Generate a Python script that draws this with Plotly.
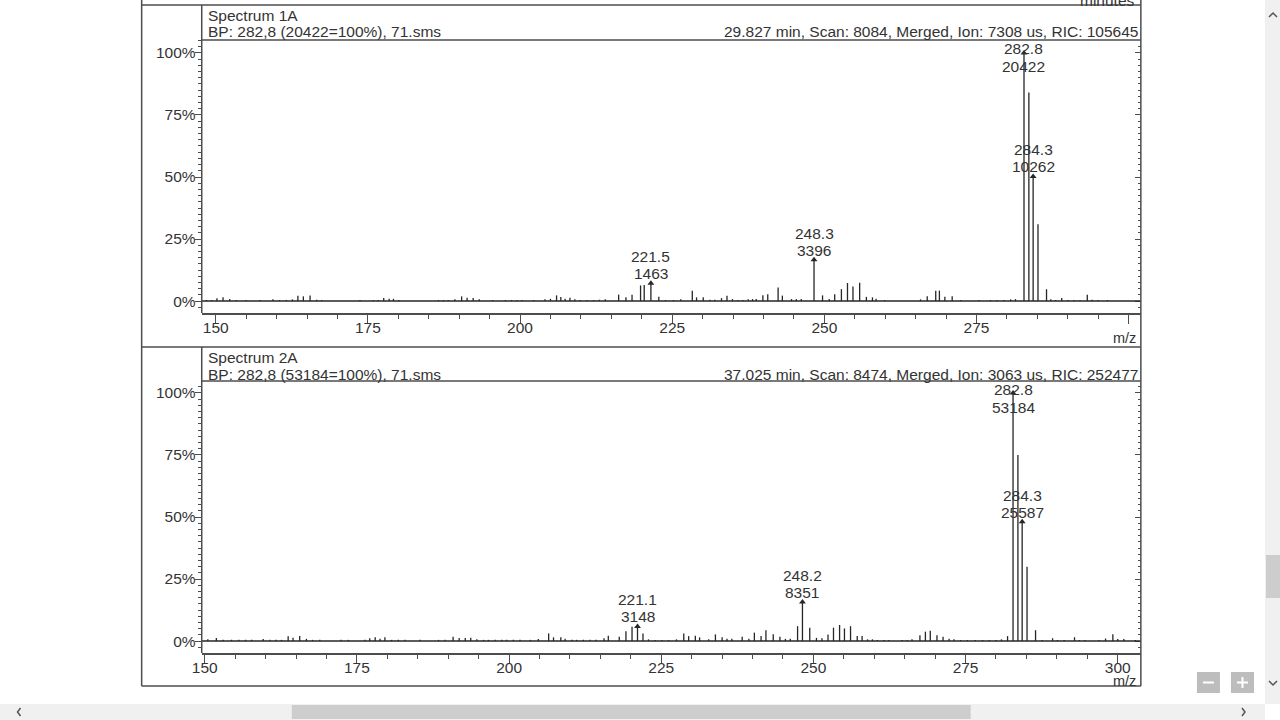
import plotly.graph_objects as go

# ---------------- DATA ----------------
# Spectrum 1A : unlabeled peaks (m/z, relative intensity %)
s1_mz = [148.5, 149.3, 150.2, 151.2, 152.3, 153.4, 155.0, 157.3, 159.4, 160.5, 161.6, 162.6,
         163.5, 164.4, 165.5, 166.6, 167.4, 173.7, 175.9, 176.7, 177.6, 178.5, 179.2, 180.1,
         186.6, 187.4, 188.2, 189.3, 190.4, 191.3, 192.3, 193.3, 195.5, 197.6, 198.6, 199.5,
         200.3, 202.2, 204.1, 205.0, 206.0, 206.7, 207.4, 208.2, 209.0, 209.9, 211.0, 212.1,
         213.0, 214.0, 216.2, 217.4, 218.4, 219.8, 220.4, 222.8, 223.9, 225.2, 226.4, 228.3,
         229.0, 230.1, 231.2, 232.0, 233.1, 234.0, 234.9, 235.8, 236.6, 237.5, 238.2, 238.8,
         239.9, 240.7, 242.4, 243.1, 244.6, 245.4, 246.2, 249.7, 250.8, 251.7, 252.8, 253.8,
         254.7, 255.8, 256.9, 257.9, 258.5, 259.9, 265.8, 266.9, 268.3, 268.9, 269.8, 271.0,
         272.4, 275.4, 277.3, 278.4, 279.5, 280.6, 281.4, 283.6, 285.1, 286.5, 287.2, 288.0,
         289.0, 290.0, 291.0, 292.0, 293.2, 294.0, 295.0, 296.5]
s1_pct = [0.4, 0.4, 1.1, 1.5, 0.8, 0.4, 0.4, 0.4, 0.7, 0.4, 0.4, 0.7,
          2.2, 1.9, 2.3, 0.5, 0.4, 0.4, 0.4, 0.4, 1.2, 0.9, 0.9, 0.4,
          0.4, 0.4, 0.4, 0.7, 1.9, 1.3, 1.2, 0.7, 0.4, 0.4, 0.4, 0.4,
          0.4, 0.4, 0.7, 0.9, 2.3, 1.6, 0.9, 1.3, 0.7, 0.4, 0.4, 0.4,
          0.5, 0.7, 2.6, 1.5, 2.6, 6.3, 6.5, 1.7, 0.4, 0.4, 0.7, 4.2,
          1.5, 1.5, 0.5, 0.5, 1.2, 2.2, 0.8, 0.4, 0.4, 0.7, 0.8, 0.8,
          2.4, 2.8, 5.5, 2.2, 0.8, 0.8, 0.8, 2.3, 0.8, 2.8, 4.8, 7.3,
          5.9, 7.4, 1.7, 1.5, 0.9, 0.4, 0.7, 1.9, 4.2, 4.2, 1.7, 1.9,
          0.4, 0.4, 0.4, 0.4, 0.4, 0.7, 0.8, 84.0, 31.0, 4.8, 0.7, 0.4,
          1.2, 0.4, 0.4, 0.3, 2.6, 0.5, 0.4, 0.4]
# Spectrum 1A : labeled peaks (m/z, counts)
s1_lab_mz = [221.5, 248.3, 282.8, 284.3]
s1_lab_counts = [1463, 3396, 20422, 10262]
s1_base = 20422

# Spectrum 2A : unlabeled peaks
s2_mz = [150.5, 151.9, 153.0, 154.4, 155.6, 156.7, 157.7, 159.6, 160.7, 161.7, 162.6, 163.7,
         164.5, 165.6, 166.7, 167.7, 168.9, 172.4, 173.6, 176.3, 177.1, 178.0, 178.8, 179.6,
         180.7, 181.8, 182.9, 185.4, 188.4, 189.5, 190.8, 191.8, 192.8, 193.7, 194.7, 195.8,
         196.6, 197.7, 198.8, 199.6, 200.7, 201.8, 203.5, 204.8, 206.5, 207.3, 208.5, 209.2,
         210.3, 211.1, 212.2, 213.3, 214.3, 215.6, 216.3, 218.1, 219.2, 220.2, 222.0, 222.9,
         224.0, 225.1, 226.2, 227.5, 228.7, 229.5, 230.6, 231.3, 232.8, 233.9, 235.0, 235.8,
         236.6, 238.3, 239.4, 240.3, 241.4, 242.2, 243.4, 244.5, 245.4, 246.2, 247.4, 249.4,
         250.5, 251.4, 252.4, 253.3, 254.3, 255.1, 256.1, 257.2, 258.0, 258.9, 259.7, 260.5,
         261.6, 262.4, 264.6, 265.4, 266.2, 267.5, 268.4, 269.2, 270.3, 271.3, 272.3, 273.1,
         274.2, 275.3, 276.6, 277.8, 278.9, 280.0, 280.9, 281.9, 283.6, 285.1, 286.5, 287.6,
         289.3, 290.1, 291.2, 292.9, 293.7, 294.6, 296.9, 298.0, 299.2, 300.0, 301.0, 302.9]
s2_pct = [0.7, 1.2, 0.5, 0.5, 0.5, 0.5, 0.5, 0.8, 0.5, 0.5, 0.5, 1.9,
          1.3, 2.0, 0.9, 0.5, 0.5, 0.5, 0.5, 0.5, 1.1, 1.5, 0.9, 1.5,
          0.5, 0.5, 0.5, 0.5, 0.5, 0.5, 1.7, 1.2, 1.2, 1.3, 0.7, 0.5,
          0.5, 0.5, 0.5, 0.5, 0.5, 0.5, 0.5, 0.8, 3.1, 1.5, 1.5, 0.9,
          0.5, 0.5, 0.5, 0.5, 0.5, 1.1, 2.2, 1.7, 4.0, 5.8, 3.1, 0.7,
          0.4, 0.4, 0.4, 0.7, 3.1, 2.0, 2.2, 1.5, 0.7, 2.7, 1.5, 0.9,
          0.9, 1.7, 0.9, 3.4, 2.0, 4.4, 2.8, 1.7, 0.9, 0.9, 6.0, 5.4,
          1.3, 1.1, 2.7, 5.4, 6.5, 5.1, 6.0, 2.0, 2.0, 0.7, 0.7, 0.4,
          0.4, 0.4, 0.4, 0.4, 0.7, 2.4, 3.8, 4.2, 2.4, 1.7, 0.9, 0.7,
          0.4, 0.4, 0.4, 0.4, 0.4, 0.4, 0.7, 2.0, 75.0, 30.0, 4.4, 0.4,
          1.1, 0.4, 0.4, 1.5, 0.4, 0.4, 0.4, 1.0, 2.8, 0.8, 0.8, 0.4]
s2_lab_mz = [221.1, 248.2, 282.8, 284.3]
s2_lab_counts = [3148, 8351, 53184, 25587]
s2_base = 53184

x_tickvals = [150, 175, 200, 225, 250, 275, 300]
x_ticktext_top = ["150", "175", "200", "225", "250", "275", ""]
x_ticktext_bot = ["150", "175", "200", "225", "250", "275", "300"]

titles = ["Spectrum 1A", "Spectrum 2A"]
bp_texts = ["BP: 282,8 (20422=100%), 71.sms", "BP: 282,8 (53184=100%), 71.sms"]
info_texts = ["29.827 min, Scan: 8084, Merged, Ion: 7308 us, RIC: 105645",
              "37.025 min, Scan: 8474, Merged, Ion: 3063 us, RIC: 252477"]

# ---------------- LAYOUT HELPERS ----------------
W, H = 1280, 720
FONT = "Liberation Sans, Arial, sans-serif"
TXT = "#333333"
LINE = "#4d4d4d"
FS = 15.5
# horizontal calibration of the rendered page (screen_x = XA * paper_px + XB)
XA, XB = 0.991, 10.5


def px(x):
    return ((x - XB) / XA) / W


def py(y):
    return 1 - y / H


# panel geometry (screen pixels)
panels = [
    dict(top=40, bottom=313, yr=[-4.8, 105.2], xr=[147.7, 302.0], head=5),
    dict(top=381, bottom=653, yr=[-4.8, 104.8], xr=[149.5, 303.8], head=347),
]
PL, PR = 202, 1140

fig = go.Figure()
annotations = []
shapes = []


def hline(x0, y0, x1, y1, color=LINE, width=1.5):
    shapes.append(dict(type="line", xref="paper", yref="paper",
                       x0=px(x0), y0=py(y0), x1=px(x1), y1=py(y1),
                       line=dict(color=color, width=width), layer="above"))


specs = [
    (s1_mz, s1_pct, s1_lab_mz, s1_lab_counts, s1_base, x_ticktext_top),
    (s2_mz, s2_pct, s2_lab_mz, s2_lab_counts, s2_base, x_ticktext_bot),
]

for i, (mz, pct, lmz, lcnt, base, ttext) in enumerate(specs):
    p = panels[i]
    xa = "x" if i == 0 else "x2"
    ya = "y" if i == 0 else "y2"
    yov = "y3" if i == 0 else "y4"
    lab_pct = [c / base * 100 for c in lcnt]
    all_mz = list(mz) + list(lmz)
    all_pct = list(pct) + lab_pct
    xs, ys = [], []
    for m, v in zip(all_mz, all_pct):
        xs += [m, m, None]
        ys += [0, v, None]
    fig.add_trace(go.Scatter(x=xs, y=ys, mode="lines", xaxis=xa, yaxis=ya,
                             line=dict(color="#262626", width=1.3),
                             hoverinfo="skip", showlegend=False, cliponaxis=False))
    # arrow heads
    fig.add_trace(go.Scatter(x=lmz, y=lab_pct, mode="markers", xaxis=xa, yaxis=ya,
                             marker=dict(symbol="triangle-up", size=6, color="#262626"),
                             hoverinfo="skip", showlegend=False, cliponaxis=False))
    # dummy for the overlaying right axis
    fig.add_trace(go.Scatter(x=[], y=[], xaxis=xa, yaxis=yov, showlegend=False))

    ppu = (p["bottom"] - p["top"]) / (p["yr"][1] - p["yr"][0])
    ymax = p["yr"][1]
    for m, v, c in zip(lmz, lab_pct, lcnt):
        y_mz = v + 26.5 / ppu
        y_ct = v + 9.5 / ppu
        if y_mz > ymax - 8 / ppu:
            y_mz = ymax - 8 / ppu
            y_ct = ymax - 26 / ppu
        for yy, t in ((y_mz, f"{m:.1f}"), (y_ct, str(c))):
            annotations.append(dict(x=m, y=yy, xref=xa, yref=ya, text=t, showarrow=False,
                                    xanchor="center", yanchor="middle",
                                    font=dict(family=FONT, size=FS, color=TXT)))

    dom_y = [py(p["bottom"]), py(p["top"])]
    ax_suffix = "" if i == 0 else "2"
    fig.update_layout(**{
        f"xaxis{ax_suffix}": dict(
            domain=[px(PL), px(PR)], range=p["xr"], anchor=ya,
            tickmode="array", tickvals=x_tickvals, ticktext=ttext,
            ticks="outside", ticklen=9, tickwidth=1.3, tickcolor=LINE,
            ticklabelstandoff=-9,
            minor=dict(dtick=5, tick0=150, ticks="outside", ticklen=4, tickwidth=1.2,
                       tickcolor=LINE, showgrid=False),
            showline=True, linecolor=LINE, linewidth=1.5,
            showgrid=False, zeroline=False,
            tickfont=dict(family=FONT, size=FS, color=TXT)),
        f"yaxis{ax_suffix}": dict(
            domain=dom_y, range=p["yr"], anchor=xa,
            tick0=0, dtick=25, ticksuffix="%",
            ticks="outside", ticklen=6, tickwidth=1.3, tickcolor=LINE,
            ticklabelstandoff=-4,
            minor=dict(dtick=2.5, tick0=0, ticks="outside", ticklen=3, tickwidth=1,
                       tickcolor=LINE, showgrid=False),
            showline=False, showgrid=False, zeroline=False,
            tickfont=dict(family=FONT, size=FS, color=TXT)),
    })
    ov = "yaxis3" if i == 0 else "yaxis4"
    fig.update_layout(**{ov: dict(
        overlaying=ya, side="right", anchor=xa, range=p["yr"],
        tick0=0, dtick=25, ticks="inside", ticklen=6, tickwidth=1.3, tickcolor=LINE,
        minor=dict(dtick=2.5, tick0=0, ticks="inside", ticklen=3, tickwidth=1,
                   tickcolor=LINE, showgrid=False),
        showticklabels=False, showline=False, showgrid=False, zeroline=False)})

    # 0 % baseline
    shapes.append(dict(type="line", xref=f"{xa} domain", yref=ya, x0=0, x1=1, y0=0, y1=0,
                       line=dict(color="#262626", width=1.5), layer="above"))

    # header texts
    h = p["head"]
    annotations.append(dict(x=px(206), y=py(h + 10), xref="paper", yref="paper",
                            text=titles[i], showarrow=False, xanchor="left", yanchor="middle",
                            font=dict(family=FONT, size=FS, color=TXT)))
    annotations.append(dict(x=px(206), y=py(h + 27), xref="paper", yref="paper",
                            text=bp_texts[i], showarrow=False, xanchor="left", yanchor="middle",
                            font=dict(family=FONT, size=FS, color=TXT)))
    annotations.append(dict(x=px(1139), y=py(h + 27), xref="paper", yref="paper",
                            text=info_texts[i], showarrow=False, xanchor="right", yanchor="middle",
                            font=dict(family=FONT, size=FS, color=TXT)))
    # m/z unit label
    annotations.append(dict(x=px(1124), y=py(p["bottom"] + (25 if i == 0 else 28)),
                            xref="paper", yref="paper", text="m/z", showarrow=False,
                            xanchor="center", yanchor="middle",
                            font=dict(family=FONT, size=FS - 1, color=TXT)))

# frame lines
hline(142, 5, 1140, 5)
hline(202, 40, 1140, 40)
hline(142, 0, 142, 686)
hline(1140, 0, 1140, 686)
hline(202, 5, 202, 313)
hline(142, 347, 1140, 347)
hline(202, 381, 1140, 381)
hline(202, 347, 202, 653)
hline(142, 686, 1140, 686)

# clipped "minutes" label of the panel above
annotations.append(dict(x=px(1136), y=py(5), xref="paper", yref="paper", text="minutes",
                        showarrow=False, xanchor="right", yanchor="bottom", yshift=-6,
                        font=dict(family=FONT, size=FS, color=TXT)))

# viewer scrollbars / zoom buttons
def rect(x0, y0, x1, y1, fill):
    shapes.append(dict(type="rect", xref="paper", yref="paper", x0=px(x0), y0=py(y0),
                       x1=px(x1), y1=py(y1), fillcolor=fill, line=dict(width=0), layer="above"))


def path(pts, color="#555555", width=1.5):
    d = "M " + " L ".join(f"{px(a)} {py(b)}" for a, b in pts)
    shapes.append(dict(type="path", xref="paper", yref="paper", path=d,
                       line=dict(color=color, width=width), layer="above"))


rect(1264, 0, 1280, 704, "#f0f0f0")
rect(1265, 555, 1279, 598, "#cdcdcd")
rect(0, 704, 1264, 720, "#f0f0f0")
rect(292, 705, 970, 719, "#cdcdcd")
path([(1268, 17), (1272, 13), (1276, 17)])
path([(1268, 681), (1272, 685), (1276, 681)])
path([(21, 708), (18, 712), (21, 716)])
path([(1241, 708), (1244, 712), (1241, 716)])
rect(1196, 672, 1219, 693, "#bdbdbd")
rect(1230, 672, 1253, 693, "#bdbdbd")
path([(1202, 682.5), (1213, 682.5)], color="white", width=2)
path([(1236, 682.5), (1247, 682.5)], color="white", width=2)
path([(1241.5, 677), (1241.5, 688)], color="white", width=2)

fig.update_layout(
    width=W, height=H, margin=dict(l=0, r=0, t=0, b=0),
    paper_bgcolor="white", plot_bgcolor="white",
    showlegend=False, annotations=annotations, shapes=shapes,
    font=dict(family=FONT, color=TXT),
)

fig.write_html(
    "out.html",
    config={"displayModeBar": False},
    post_script="document.body.style.margin='0';document.body.style.padding='0';"
                "document.body.style.overflow='hidden';",
)
